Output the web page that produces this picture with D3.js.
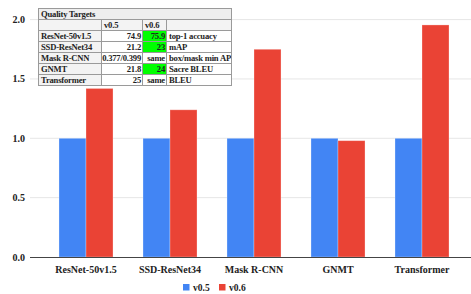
<!DOCTYPE html>
<html lang="en">
<head>
    <meta charset="UTF-8">
    <title>MLPerf v0.5 vs v0.6</title>
    <style>
        body { margin: 0; background: #fff; font-family: "Liberation Serif", "Times New Roman", serif; }
        #chart { position: relative; width: 471px; height: 294px; }
        svg text { font-family: "Liberation Serif", serif; font-weight: bold; fill: #222; }
        #targets {
            position: absolute; left: 38px; top: 8px; width: 193px; table-layout: fixed;
            border-collapse: collapse; font-size: 8.6px; font-weight: bold; color: #222;
            letter-spacing: -0.2px; background: #fff;
        }
        #targets td { border: 1px solid #9a9a9a; padding: 0 1px 0 2px; height: 10px; line-height: 10px; white-space: nowrap; overflow: hidden; }
        #targets .title { background: #eeeeee; }
        #targets .head { background: #f3f3f3; }
        #targets .name { background: #f3f3f3; }
        #targets .num { text-align: right; padding: 0 1px 0 0; }
        #targets .green { background: #00ff00; }
    </style>
</head>
<body>
<div id="chart"></div>
<script src="https://d3js.org/d3.v7.min.js"></script>
<script>
    // chart data
    const categories = ["ResNet-50v1.5", "SSD-ResNet34", "Mask R-CNN", "GNMT", "Transformer"];
    const seriesNames = ["v0.5", "v0.6"];
    const v05 = [1.0, 1.0, 1.0, 1.0, 1.0];
    const v06 = [1.42, 1.24, 1.75, 0.98, 1.955];
    const yTicks = [0, 0.5, 1.0, 1.5, 2.0];
    const colors = ["#4285f4", "#ea4335"];

    // quality targets table
    const tableV05 = ["74.9", "21.2", "0.377/0.399", "21.8", "25"];
    const tableV06 = ["75.9", "23", "same", "24", "same"];
    const tableMetric = ["top-1 accuacy", "mAP", "box/mask min AP", "Sacre BLEU", "BLEU"];
    const tableImproved = [true, true, false, true, false];
    const colWidths = [63, 41, 24, 65];

    const W = 471, H = 294;
    const svg = d3.select("#chart").append("svg").attr("width", W).attr("height", H);

    const x0 = d3.scaleBand().domain(categories).range([44, 464])
        .paddingInner(0.357).paddingOuter(0.1785);
    const x1 = d3.scaleBand().domain(seriesNames).range([0, x0.bandwidth()]);
    const y = d3.scaleLinear().domain([0, 2]).range([257, 19.6]);

    // gridlines
    svg.append("g").selectAll("line").data(yTicks.slice(1)).join("line")
        .attr("x1", 30).attr("x2", W)
        .attr("y1", d => y(d)).attr("y2", d => y(d))
        .attr("stroke", "#e6e6e6").attr("stroke-width", 1);

    // y tick labels
    svg.append("g").selectAll("text").data(yTicks).join("text")
        .attr("x", 25).attr("y", d => y(d) + 3.5)
        .attr("text-anchor", "end").attr("font-size", 10)
        .text(d => d.toFixed(1));

    // bars
    const rows = categories.map((c, i) => ({ cat: c, vals: [v05[i], v06[i]] }));
    const groups = svg.append("g").selectAll("g").data(rows).join("g")
        .attr("transform", d => `translate(${x0(d.cat)},0)`);
    groups.selectAll("rect").data(d => d.vals.map((v, j) => ({ key: seriesNames[j], v, j }))).join("rect")
        .attr("x", d => x1(d.key))
        .attr("y", d => y(d.v))
        .attr("width", x1.bandwidth())
        .attr("height", d => y(0) - y(d.v))
        .attr("fill", d => colors[d.j])
        .attr("stroke", "#fff").attr("stroke-opacity", 0.35).attr("stroke-width", 0.8);

    // baseline
    svg.append("line").attr("x1", 30).attr("x2", W).attr("y1", y(0) + 0.5).attr("y2", y(0) + 0.5)
        .attr("stroke", "#444").attr("stroke-width", 1);

    // x axis labels
    svg.append("g").selectAll("text").data(categories).join("text")
        .attr("x", d => x0(d) + x0.bandwidth() / 2)
        .attr("y", 273).attr("text-anchor", "middle").attr("font-size", 10)
        .text(d => d);

    // legend
    const legendX = [183, 219];
    const lg = svg.append("g").selectAll("g").data(seriesNames).join("g")
        .attr("transform", (d, i) => `translate(${legendX[i]},284)`);
    lg.append("rect").attr("width", 6.5).attr("height", 6.5).attr("fill", (d, i) => colors[i]);
    lg.append("text").attr("x", 10).attr("y", 6.5).attr("font-size", 9.5).text(d => d);

    // table overlay
    const table = d3.select("#chart").append("table").attr("id", "targets");
    const cg = table.append("colgroup");
    colWidths.forEach(w => cg.append("col").style("width", w + "px"));
    table.append("tr").append("td").attr("class", "title").attr("colspan", 4).text("Quality Targets");
    const head = table.append("tr");
    ["", "v0.5", "v0.6", ""].forEach(h => head.append("td").attr("class", "head").text(h));
    categories.forEach((c, i) => {
        const tr = table.append("tr");
        tr.append("td").attr("class", "name").text(c);
        tr.append("td").attr("class", "num").style("background", "#fff").text(tableV05[i]);
        tr.append("td").attr("class", "num" + (tableImproved[i] ? " green" : ""))
            .style("background", tableImproved[i] ? null : "#fff").text(tableV06[i]);
        tr.append("td").style("background", "#fff").text(tableMetric[i]);
    });
</script>
</body>
</html>
